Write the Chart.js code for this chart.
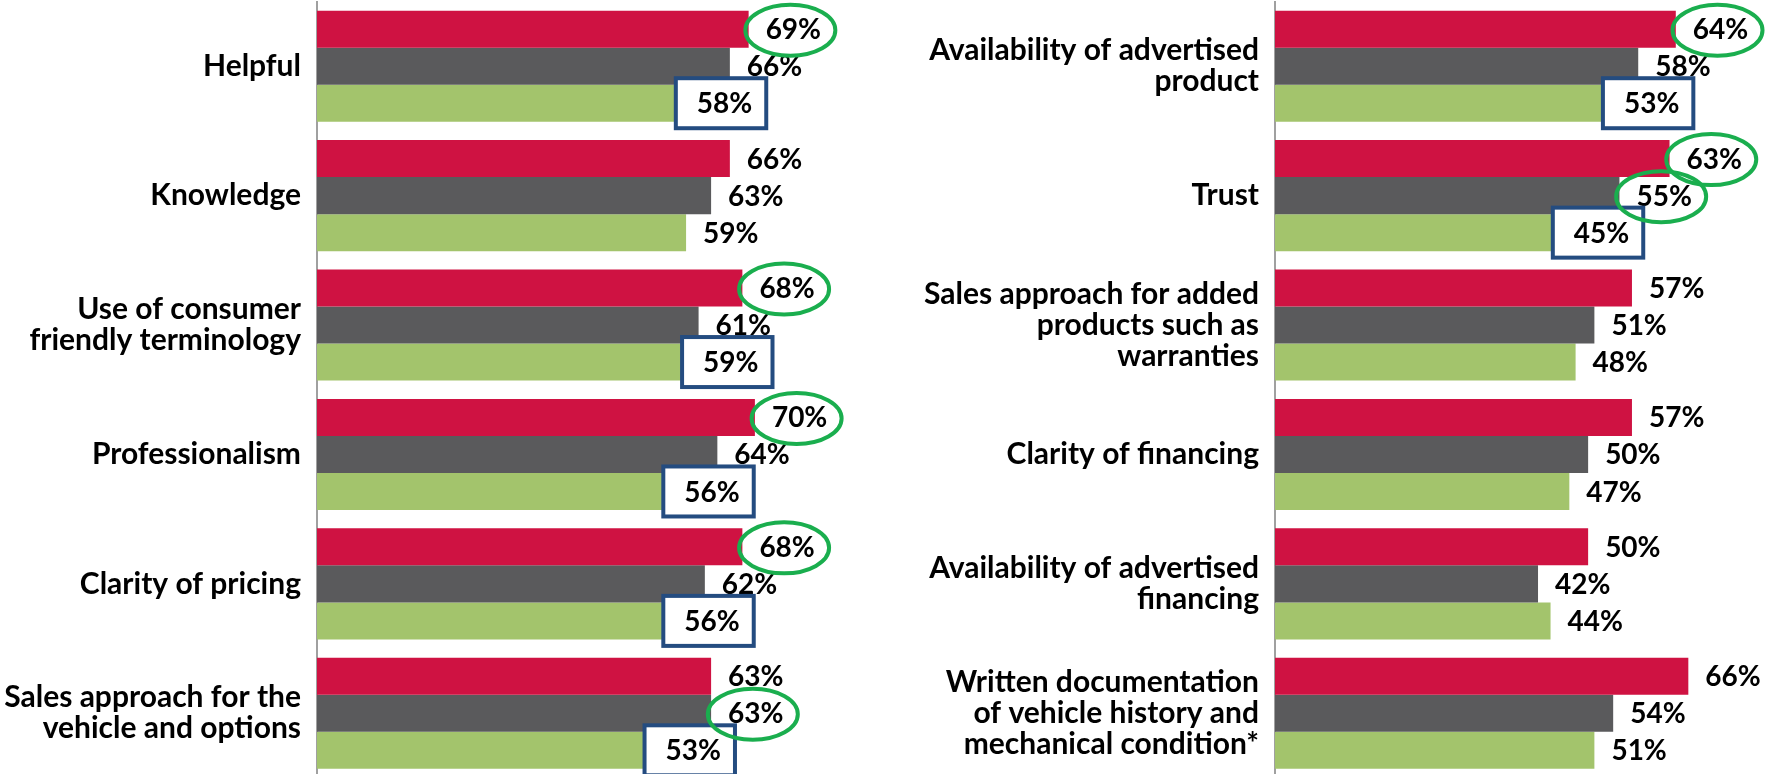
<!DOCTYPE html>
<html>
<head>
<meta charset="utf-8">
<script src="https://cdn.jsdelivr.net/npm/chart.js@4.4.1/dist/chart.umd.min.js"></script>
<style>
  html, body { margin: 0; padding: 0; background: #fff; overflow: hidden; }
  .panel { position: absolute; top: 0; height: 778px; }
  #leftPanel { left: 0; width: 880px; }
  #rightPanel { left: 880px; width: 896px; }
</style>
</head>
<body>
<div class="panel" id="leftPanel"><canvas id="leftChart"></canvas></div>
<div class="panel" id="rightPanel"><canvas id="rightChart"></canvas></div>
<script>
// series names (no legend in the source)
const seriesNames = ['Series 1', 'Series 2', 'Series 3'];
const seriesColors = ['#CF1242', '#5A5A5C', '#A3C46C'];

// left panel
const leftCategories = [
    'Helpful',
    'Knowledge',
    ['Use of consumer', 'friendly terminology'],
    'Professionalism',
    'Clarity of pricing',
    ['Sales approach for the', 'vehicle and options'],
];
const leftSeries1 = [69, 66, 68, 70, 68, 63];
const leftSeries2 = [66, 63, 61, 64, 62, 63];
const leftSeries3 = [58, 59, 59, 56, 56, 53];
// which series get a green circle / a blue box, per category
const leftCircled = [[0], [], [0], [0], [0], [1]];
const leftBoxed = [[2], [], [2], [2], [2], [2]];

// right panel
const rightCategories = [
    ['Availability of advertised', 'product'],
    'Trust',
    ['Sales approach for added', 'products such as', 'warranties'],
    'Clarity of financing',
    ['Availability of advertised', 'financing'],
    ['Written documentation', 'of vehicle history and', 'mechanical condition*'],
];
const rightSeries1 = [64, 63, 57, 57, 50, 66];
const rightSeries2 = [58, 55, 51, 50, 42, 54];
const rightSeries3 = [53, 45, 48, 47, 44, 51];
const rightCircled = [[0], [0, 1], [], [], [], []];
const rightBoxed = [[2], [2], [], [], [], []];

const labelFont = 'bold 28px Lato';

const markPlugin = {
    id: 'marks',
    afterDatasetsDraw(chart, args, opts) {
        const ctx = chart.ctx;
        ctx.save();
        ctx.font = labelFont;
        ctx.textBaseline = 'middle';
        ctx.textAlign = 'left';
        ctx.fillStyle = '#000';

        const items = [];
        chart.data.datasets.forEach((ds, di) => {
            const meta = chart.getDatasetMeta(di);
            meta.data.forEach((bar, i) => {
                const text = ds.data[i] + '%';
                items.push({
                    di, i, text,
                    end: bar.x,
                    x: bar.x + 17,
                    y: bar.y,
                    w: ctx.measureText(text).width,
                });
            });
        });

        const isBoxed = (it) => opts.boxed[it.i].includes(it.di);
        const isCircled = (it) => opts.circled[it.i].includes(it.di);

        items.filter((it) => !isBoxed(it)).forEach((it) => {
            ctx.fillText(it.text, it.x, it.y + 1);
        });

        items.filter(isBoxed).forEach((it) => {
            const left = it.end - 4;
            const right = it.x + it.w + 14;
            ctx.fillStyle = '#fff';
            ctx.fillRect(left, it.y - 25, right - left, 50);
            ctx.strokeStyle = '#244C80';
            ctx.lineWidth = 4;
            ctx.strokeRect(left, it.y - 25, right - left, 50);
            ctx.fillStyle = '#000';
            ctx.fillText(it.text, it.x, it.y + 1);
        });

        items.filter(isCircled).forEach((it) => {
            ctx.beginPath();
            ctx.ellipse(it.x + it.w / 2 - 3, it.y + 1, 45, 25.5, 0, 0, Math.PI * 2);
            ctx.strokeStyle = '#1AAE4E';
            ctx.lineWidth = 4;
            ctx.stroke();
        });

        ctx.restore();
    },
};

function buildChart(canvasId, categories, values, axisWidth, maxValue, circled, boxed) {
    const ctx = document.getElementById(canvasId).getContext('2d');
    return new Chart(ctx, {
        type: 'bar',
        data: {
            labels: categories,
            datasets: values.map((data, k) => ({
                label: seriesNames[k],
                data,
                backgroundColor: seriesColors[k],
                borderWidth: 0,
                barPercentage: 1,
                categoryPercentage: 0.858,
            })),
        },
        options: {
            indexAxis: 'y',
            responsive: true,
            maintainAspectRatio: false,
            animation: false,
            layout: { padding: { top: 1.5, right: 0, bottom: 0, left: 0 } },
            plugins: {
                legend: { display: false },
                tooltip: { enabled: false },
                marks: { circled, boxed },
            },
            scales: {
                x: {
                    display: false,
                    min: 0,
                    max: maxValue,
                },
                y: {
                    grid: { display: false, drawTicks: false },
                    border: { display: true, color: '#A0A0A0', width: 2 },
                    ticks: {
                        color: '#000',
                        padding: 16,
                        font: { family: 'Lato', weight: 'bold', size: 30, lineHeight: '31px' },
                    },
                    afterFit(scale) {
                        scale.width = axisWidth;
                        scale.paddingTop = 0;
                        scale.paddingBottom = 0;
                    },
                },
            },
        },
        plugins: [markPlugin],
    });
}

buildChart('leftChart', leftCategories, [leftSeries1, leftSeries2, leftSeries3], 317, 90, leftCircled, leftBoxed);
buildChart('rightChart', rightCategories, [rightSeries1, rightSeries2, rightSeries3], 395, 80, rightCircled, rightBoxed);
</script>
</body>
</html>
